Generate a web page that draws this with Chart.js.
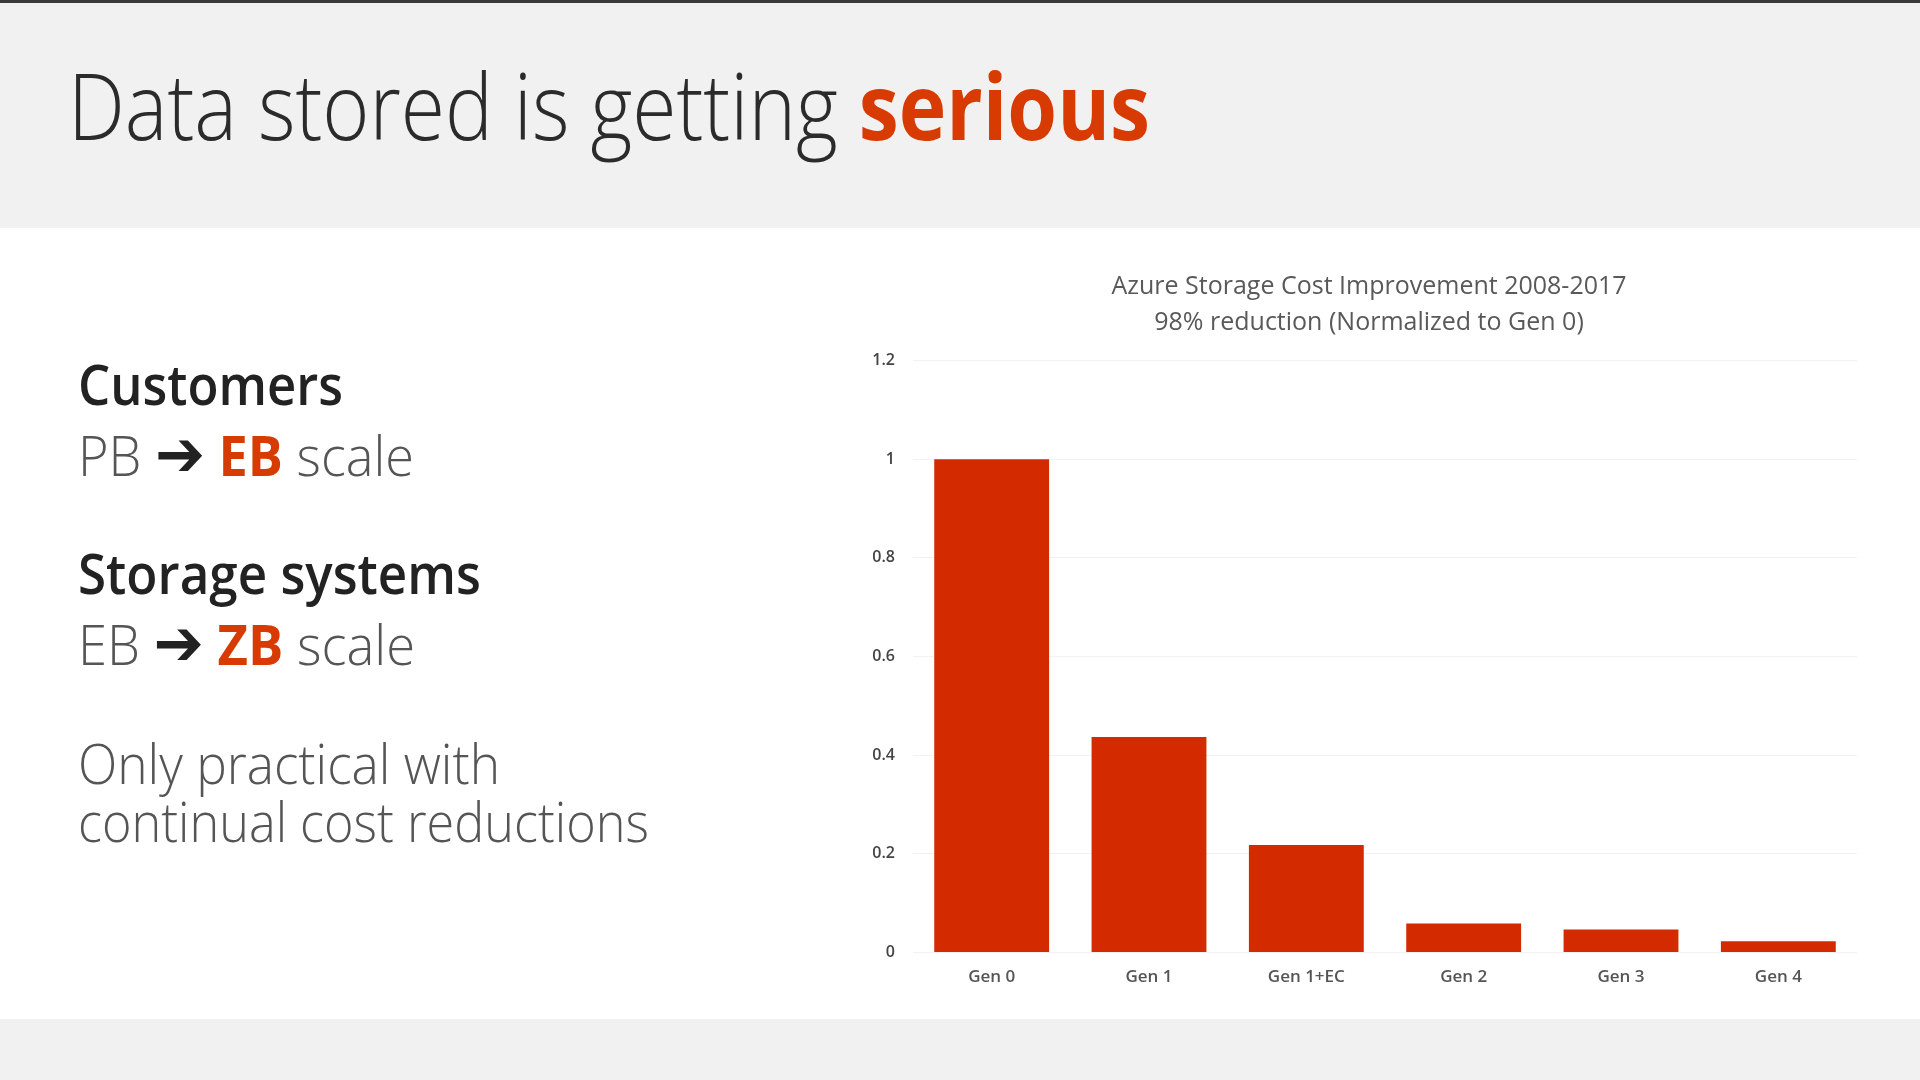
<!DOCTYPE html>
<html>
<head>
<meta charset="utf-8">
<script src="https://cdn.jsdelivr.net/npm/chart.js@4.4.1/dist/chart.umd.min.js"></script>
<style>
  html, body {
    margin: 0;
    padding: 0;
    width: 1920px;
    height: 1080px;
    overflow: hidden;
    background: #ffffff;
    font-family: "Open Sans", "Noto Sans", sans-serif;
  }
  .band-top {
    position: absolute;
    left: 0; top: 0;
    width: 1920px; height: 228px;
    background: #f1f1f1;
    border-top: 3px solid #3a3a3a;
    box-sizing: border-box;
  }
  .band-bottom {
    position: absolute;
    left: 0; top: 1019px;
    width: 1920px; height: 61px;
    background: #f1f1f1;
  }
  .txt {
    position: absolute;
    left: 78px;
    white-space: nowrap;
    line-height: 1;
    transform-origin: 0 50%;
  }
  .slide-title {
    left: 68px;
    top: 59px;
    font-size: 92px;
    font-weight: 300;
    color: #2b2b2b;
  }
  .accent { color: #d83b01; font-weight: 700; }
  .head { font-size: 56px; font-weight: 600; color: #222222; }
  .light { font-size: 56px; font-weight: 300; color: #555555; }
  .arrow {
    color: #222222;
    font-family: "DejaVu Sans", sans-serif;
    font-weight: 700;
    font-size: 64px;
    line-height: 0;
  }
  #chartBox {
    position: absolute;
    left: 860px;
    top: 250px;
    width: 1018px;
    height: 765px;
  }
</style>
</head>
<body>
<div class="band-top"></div>
<div class="band-bottom"></div>

<div class="txt slide-title" data-fit="1082">Data stored is getting <span class="accent">serious</span></div>

<div class="txt head" style="top:355px" data-fit="265">Customers</div>
<div class="txt light" style="top:426px" data-fit="336">PB <span class="arrow">➔</span> <span class="accent">EB</span> scale</div>

<div class="txt head" style="top:544px" data-fit="403">Storage systems</div>
<div class="txt light" style="top:615px" data-fit="337">EB <span class="arrow">➔</span> <span class="accent">ZB</span> scale</div>

<div class="txt light" style="top:734px" data-fit="422">Only practical with</div>
<div class="txt light" style="top:792px" data-fit="571">continual cost reductions</div>

<div id="chartBox"><canvas id="chart"></canvas></div>

<script>
const categories = ["Gen 0", "Gen 1", "Gen 1+EC", "Gen 2", "Gen 3", "Gen 4"];
const costValues = [1.0, 0.437, 0.218, 0.059, 0.047, 0.023];
const yTickValues = [0, 0.2, 0.4, 0.6, 0.8, 1, 1.2];
const yTickLabels = ["0", "0.2", "0.4", "0.6", "0.8", "1", "1.2"];
const chartTitle = [
    "Azure Storage Cost Improvement 2008-2017",
    "98% reduction (Normalized to Gen 0)",
];

// squeeze the slide text to the widths of the original font
function fitText() {
    document.querySelectorAll("[data-fit]").forEach(function (el) {
        const target = parseFloat(el.dataset.fit);
        const w = el.getBoundingClientRect().width;
        if (w > 0) {
            el.style.transform = "scaleX(" + (target / w).toFixed(4) + ")";
        }
    });
}

function drawChart() {
    const ctx = document.getElementById("chart").getContext("2d");
    new Chart(ctx, {
        type: "bar",
        data: {
            labels: categories,
            datasets: [
                {
                    label: "Cost",
                    data: costValues,
                    backgroundColor: "#d42a00",
                    borderWidth: 0,
                    barPercentage: 0.73,
                    categoryPercentage: 1.0,
                },
            ],
        },
        options: {
            responsive: true,
            maintainAspectRatio: false,
            animation: false,
            layout: {
                padding: { left: 0, right: 0, top: 0, bottom: 14 },
            },
            plugins: {
                legend: { display: false },
                tooltip: { enabled: false },
                title: {
                    display: true,
                    text: chartTitle,
                    color: "#595959",
                    font: { family: "Open Sans", size: 25, weight: "normal", lineHeight: 1.47 },
                    padding: { top: 18, bottom: 19 },
                },
            },
            scales: {
                x: {
                    grid: { display: false, drawTicks: false },
                    border: { display: false },
                    ticks: {
                        color: "#555555",
                        padding: 14,
                        font: { family: "Open Sans", size: 17, weight: "600" },
                    },
                },
                y: {
                    min: 0,
                    max: 1.2,
                    afterBuildTicks: function (scale) {
                        scale.ticks = yTickValues.map(function (v) {
                            return { value: v };
                        });
                    },
                    afterFit: function (scale) {
                        scale.width = 53;
                    },
                    grid: { color: "#f2f2f2", drawTicks: false },
                    border: { display: false },
                    ticks: {
                        color: "#444444",
                        padding: 18,
                        font: { family: "Open Sans", size: 16, weight: "600" },
                        callback: function (value, index) {
                            return yTickLabels[index];
                        },
                    },
                },
                // empty right axis, keeps the plot clear of the right edge
                yRight: {
                    position: "right",
                    display: true,
                    grid: { display: false, drawTicks: false },
                    border: { display: false },
                    ticks: { display: false },
                    afterFit: function (scale) {
                        scale.width = 21;
                    },
                },
            },
        },
    });
}

document.addEventListener("DOMContentLoaded", function () {
    document.fonts.ready.then(function () {
        fitText();
        drawChart();
    });
});
</script>
</body>
</html>
